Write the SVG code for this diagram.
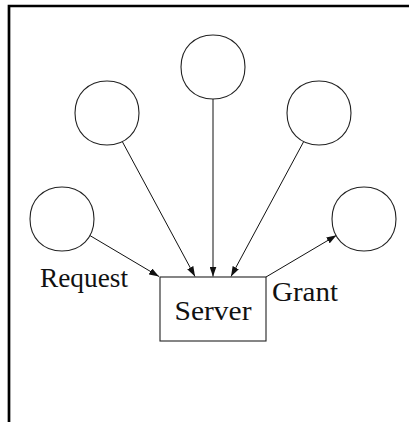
<svg xmlns="http://www.w3.org/2000/svg" width="409" height="422" viewBox="0 0 409 422">
  <style>
    .frame { fill: none; stroke: #000; stroke-width: 2.7; }
    .client { fill: #fff; stroke: #222; stroke-width: 1.1; }
    .box { fill: #fff; stroke: #222; stroke-width: 1.1; }
    .edge { fill: none; stroke: #111; stroke-width: 1; marker-end: url(#tip); }
    .label { font-family: "Liberation Serif", "Times New Roman", serif; font-size: 27px; fill: #111; }
  </style>
  <defs>
    <marker id="tip" viewBox="0 0 10 7" refX="10" refY="3.5" markerWidth="10" markerHeight="7" markerUnits="userSpaceOnUse" orient="auto">
      <path d="M0,0 L10,3.5 L0,7 Z" fill="#111"/>
    </marker>
    <!-- client outline: slightly squarish circle of radius 32 -->
    <path id="ring" d="M32,0 C32,18.8 18.8,32 0,32 C-18.8,32 -32,18.8 -32,0 C-32,-18.8 -18.8,-32 0,-32 C18.8,-32 32,-18.8 32,0 Z"/>
  </defs>

  <!-- frame lines -->
  <path class="frame" d="M9,422 V6 H409"/>

  <g id="connectors">
    <line class="edge" x1="89.5" y1="235.3" x2="159" y2="276.5"/>
    <line class="edge" x1="122.1" y1="141.2" x2="195" y2="276.5"/>
    <line class="edge" x1="213" y1="99" x2="213" y2="276.5"/>
    <line class="edge" x1="303.9" y1="141.2" x2="231" y2="276.5"/>
    <line class="edge" x1="266" y1="277" x2="336.5" y2="235.3"/>
  </g>

  <g id="client-left"><use href="#ring" class="client" transform="translate(62,219)"/></g>
  <g id="client-upper-left"><use href="#ring" class="client" transform="translate(107,113)"/></g>
  <g id="client-top"><use href="#ring" class="client" transform="translate(213,67)"/></g>
  <g id="client-upper-right"><use href="#ring" class="client" transform="translate(319,113)"/></g>
  <g id="client-right"><use href="#ring" class="client" transform="translate(364,219)"/></g>

  <g id="server">
    <rect class="box" x="160" y="277" width="106" height="64"/>
    <text class="label" x="213" y="320" text-anchor="middle" textLength="77" lengthAdjust="spacingAndGlyphs">Server</text>
  </g>

  <g id="edge-labels">
    <text class="label" x="40" y="287" textLength="88" lengthAdjust="spacingAndGlyphs">Request</text>
    <text class="label" x="272" y="301" textLength="66" lengthAdjust="spacingAndGlyphs">Grant</text>
  </g>
</svg>
